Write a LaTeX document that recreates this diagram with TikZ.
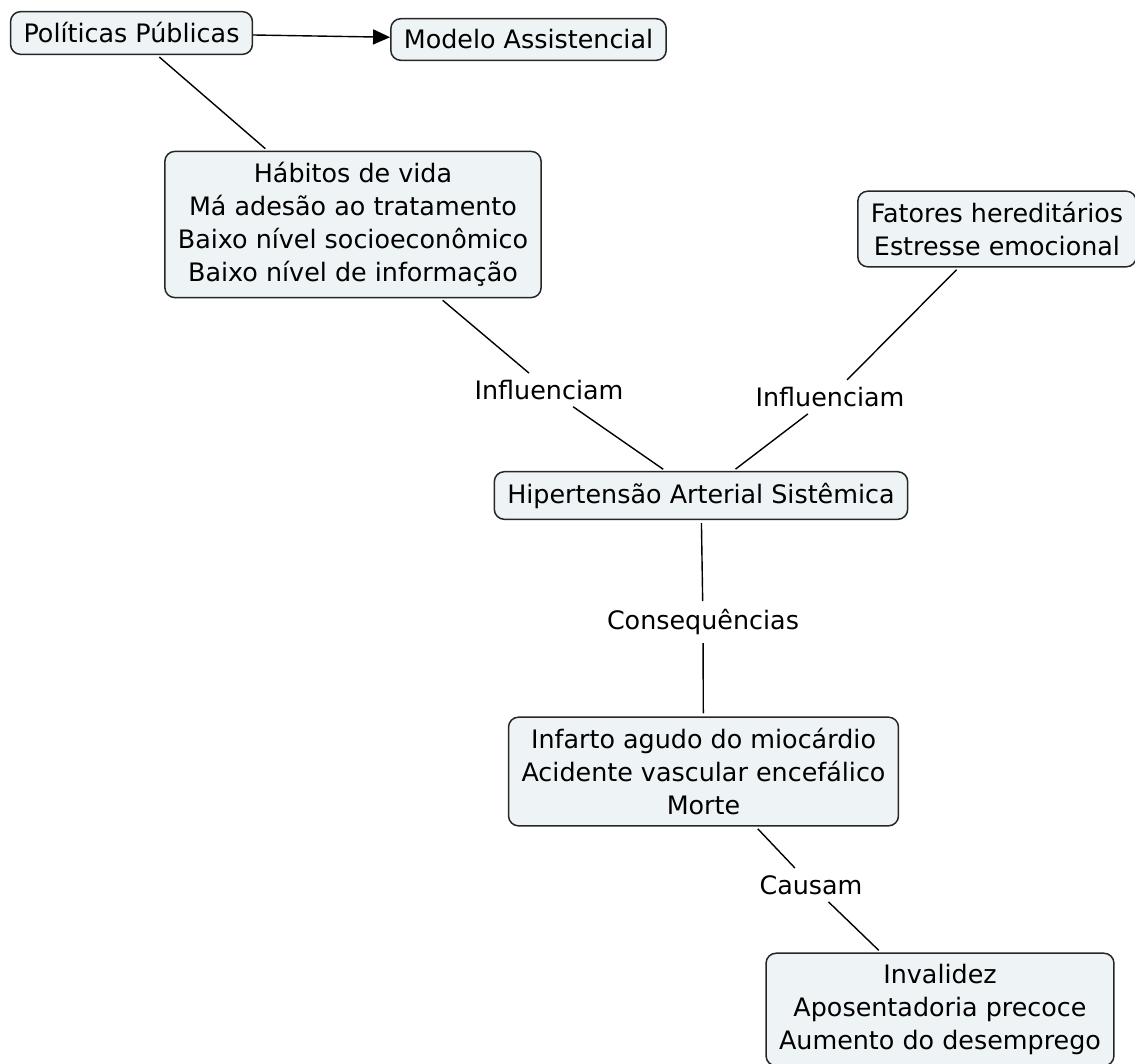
\documentclass[tikz,border=0pt]{standalone}
\usepackage{fontspec}
\setmainfont{DejaVu Sans}
\usetikzlibrary{arrows.meta}
\definecolor{caixa}{RGB}{238,244,246}
\begin{document}
\begin{tikzpicture}[x=1pt,y=-1pt,font=\fontsize{25.4}{33}\selectfont,
    conceito/.style={draw=black!85,line width=1.5pt,fill=caixa,rounded corners=10pt,
      align=center,inner xsep=13pt,inner ysep=11pt},
    ligacao/.style={inner sep=5pt},
    linha/.style={line width=1.4pt,shorten >=3pt,shorten <=3pt}]
      \useasboundingbox (0,0) rectangle (1135,1063);
      % conceitos
      \node[conceito] (pp) at (131.5,33) {Políticas Públicas};
      \node[conceito] (ma) at (528.5,39.5) {Modelo Assistencial};
      \node[conceito] (hab) at (353,224.5) {Hábitos de vida\\Má adesão ao tratamento\\Baixo nível socioeconômico\\Baixo nível de informação};
      \node[conceito] (fat) at (997,229) {Fatores hereditários\\Estresse emocional};
      \node[conceito] (has) at (701,495.5) {Hipertensão Arterial Sistêmica};
      \node[conceito] (iam) at (703.5,771.5) {Infarto agudo do miocárdio\\Acidente vascular encefálico\\Morte};
      \node[conceito] (inv) at (940,1009.5) {Invalidez\\Aposentadoria precoce\\Aumento do desemprego};
      % frases de ligacao
      \node[ligacao] (inf1) at (549,390) {Influenciam};
      \node[ligacao] (inf2) at (830,397) {Influenciam};
      \node[ligacao] (cons) at (703,622) {Consequências};
      \node[ligacao] (caus) at (811,885) {Causam};
      % ligacoes
      \draw[line width=1.4pt,-{Triangle[length=17pt,width=15pt]}] (pp) -- (ma);
      \draw[linha] (pp) -- (hab);
      \draw[linha] (hab) -- (inf1);
      \draw[linha] (inf1) -- (has);
      \draw[linha] (fat) -- (inf2);
      \draw[linha] (inf2) -- (has);
      \draw[linha] (has) -- (cons);
      \draw[linha] (cons) -- (iam);
      \draw[linha] (iam) -- (caus);
      \draw[linha] (caus) -- (inv);
\end{tikzpicture}
\end{document}
